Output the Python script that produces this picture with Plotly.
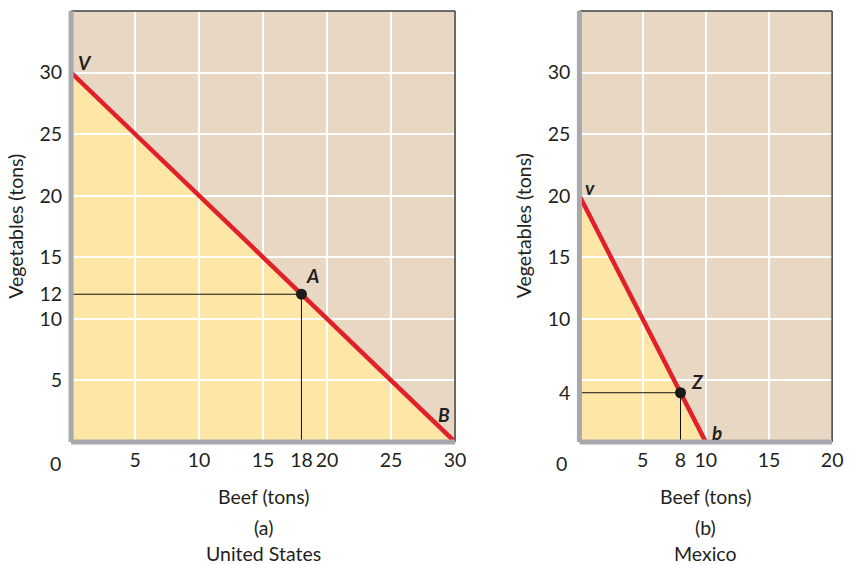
import plotly.graph_objects as go

# ---------------- data ----------------
# United States production possibilities frontier
us_beef = [0, 30]
us_veg = [30, 0]
us_point = (18, 12)          # point A
us_xticks = [5, 10, 15, 18, 20, 25, 30]
us_yticks = [5, 10, 12, 15, 20, 25, 30]
us_xgrid = [5, 10, 15, 20, 25]
us_ygrid = [5, 10, 15, 20, 25, 30]

# Mexico production possibilities frontier
mx_beef = [0, 10]
mx_veg = [20, 0]
mx_point = (8, 4)            # point Z
mx_xticks = [5, 8, 10, 15, 20]
mx_yticks = [4, 10, 15, 20, 25, 30]
mx_xgrid = [5, 10, 15]
mx_ygrid = [5, 10, 15, 20, 25, 30]

y_max = 35

# ---------------- style ----------------
FONT = "Lato"
FS = 19.5
TXT = "#231f20"
TAN = "#e8d8c3"
YEL = "#fee6a6"
RED = "#e0202a"
GRAY = "#a7a9ac"
DARK = "#404040"

W, H = 853, 565
fig = go.Figure()

def px_x(p):
    return p / W

def px_y(p):
    return 1 - p / H

xdom1 = [px_x(72), px_x(461)]
xdom2 = [px_x(587), px_x(843)]
ydom = [px_y(442), px_y(11)]

panels = [
    dict(xa="x", ya="y", beef=us_beef, veg=us_veg, pt=us_point,
         xmax=us_beef[1], xt=us_xticks, yt=us_yticks, xg=us_xgrid, yg=us_ygrid,
         dom=xdom1),
    dict(xa="x2", ya="y2", beef=mx_beef, veg=mx_veg, pt=mx_point,
         xmax=20, xt=mx_xticks, yt=mx_yticks, xg=mx_xgrid, yg=mx_ygrid,
         dom=xdom2),
]

for i, p in enumerate(panels):
    xa, ya = p["xa"], p["ya"]
    # yellow feasible region (drawn below the gridlines)
    b, v = p["beef"], p["veg"]
    path = f"M {b[0]},{0} L {b[0]},{v[0]} L {b[1]},{v[1]} Z"
    fig.add_shape(type="path", path=path, xref=xa, yref=ya,
                  fillcolor=YEL, line=dict(width=0), layer="below")
    # guide lines to the point
    px, py = p["pt"]
    fig.add_trace(go.Scatter(x=[0, px, px], y=[py, py, 0], mode="lines",
                             line=dict(color="#111111", width=1),
                             xaxis=xa, yaxis=ya, showlegend=False, hoverinfo="skip"))
    # frontier
    fig.add_trace(go.Scatter(x=b, y=v, mode="lines",
                             line=dict(color=RED, width=4.5),
                             xaxis=xa, yaxis=ya, showlegend=False))
    # point
    fig.add_trace(go.Scatter(x=[px], y=[py], mode="markers",
                             marker=dict(color="#1a1a1a", size=11),
                             xaxis=xa, yaxis=ya, showlegend=False, cliponaxis=False))
    # frame
    dxr = ("x" if i == 0 else "x2") + " domain"
    dyr = ("y" if i == 0 else "y2") + " domain"
    fig.add_shape(type="line", xref=dxr, yref=dyr, x0=0, x1=1, y0=1, y1=1,
                  line=dict(color=DARK, width=1.5))
    fig.add_shape(type="line", xref=dxr, yref=dyr, x0=1, x1=1, y0=0, y1=1,
                  line=dict(color=DARK, width=1.5))
    fig.add_shape(type="line", xref=dxr, yref=dyr, x0=0, x1=1, y0=0, y1=0,
                  line=dict(color=GRAY, width=5))
    fig.add_shape(type="line", xref=dxr, yref=dyr, x0=0, x1=0, y0=0, y1=1,
                  line=dict(color=GRAY, width=5))

    axis_x = dict(domain=p["dom"], range=[0, p["xmax"]], tickvals=p["xt"],
                  showgrid=False, zeroline=False, showline=False, ticks="",
                  tickfont=dict(family=FONT, size=FS, color=TXT),
                  ticklabelstandoff=4,
                  minor=dict(tickvals=p["xg"], showgrid=True, gridcolor="white",
                             gridwidth=1.5, ticks=""),
                  anchor=ya)
    axis_y = dict(domain=ydom, range=[0, y_max], tickvals=p["yt"],
                  showgrid=False, zeroline=False, showline=False, ticks="",
                  tickfont=dict(family=FONT, size=FS, color=TXT),
                  ticklabelstandoff=8,
                  minor=dict(tickvals=p["yg"], showgrid=True, gridcolor="white",
                             gridwidth=1.5, ticks=""),
                  anchor=xa)
    if i == 0:
        fig.update_layout(xaxis=axis_x, yaxis=axis_y)
    else:
        fig.update_layout(xaxis2=axis_x, yaxis2=axis_y)

# point labels
labels = [
    ("x", "y", 1.06, 30.8, "V"),
    ("x", "y", 18.9, 13.5, "A"),
    ("x", "y", 29.1, 2.2, "B"),
    ("x2", "y2", 0.8, 20.7, "v"),
    ("x2", "y2", 9.35, 4.9, "Z"),
    ("x2", "y2", 10.85, 0.8, "b"),
]
for xr, yr, x, y, t in labels:
    fig.add_annotation(x=x, y=y, xref=xr, yref=yr, text=f"<b><i>{t}</i></b>",
                       showarrow=False, xanchor="center", yanchor="middle",
                       font=dict(family=FONT, size=19, color=TXT))

def ann(xp, yp, text, angle=0):
    fig.add_annotation(x=px_x(xp), y=px_y(yp), xref="paper", yref="paper",
                       text=text, textangle=angle, showarrow=False,
                       xanchor="center", yanchor="middle",
                       font=dict(family=FONT, size=FS, color=TXT))

# origin "0" labels
ann(56, 463, "0")
ann(569, 463, "0")

# axis titles and captions
for cx, vx, cap, country in [((72 + 461) / 2, 15, "(a)", "United States"),
                             ((587 + 843) / 2, 530, "(b)", "Mexico")]:
    ann(vx, 226, "Vegetables (tons)", -90)
    ann(cx, 497, "Beef (tons)")
    ann(cx, 527, cap)
    ann(cx, 553, country)

fig.update_layout(width=W, height=H, autosize=False,
                  margin=dict(l=0, r=0, t=0, b=0),
                  paper_bgcolor="white", plot_bgcolor=TAN, showlegend=False)

post = ("document.body.style.margin='0';"
        "document.body.style.overflow='hidden';")

fig.write_html("out.html",
               config={"responsive": False, "displayModeBar": False},
               post_script=post)
